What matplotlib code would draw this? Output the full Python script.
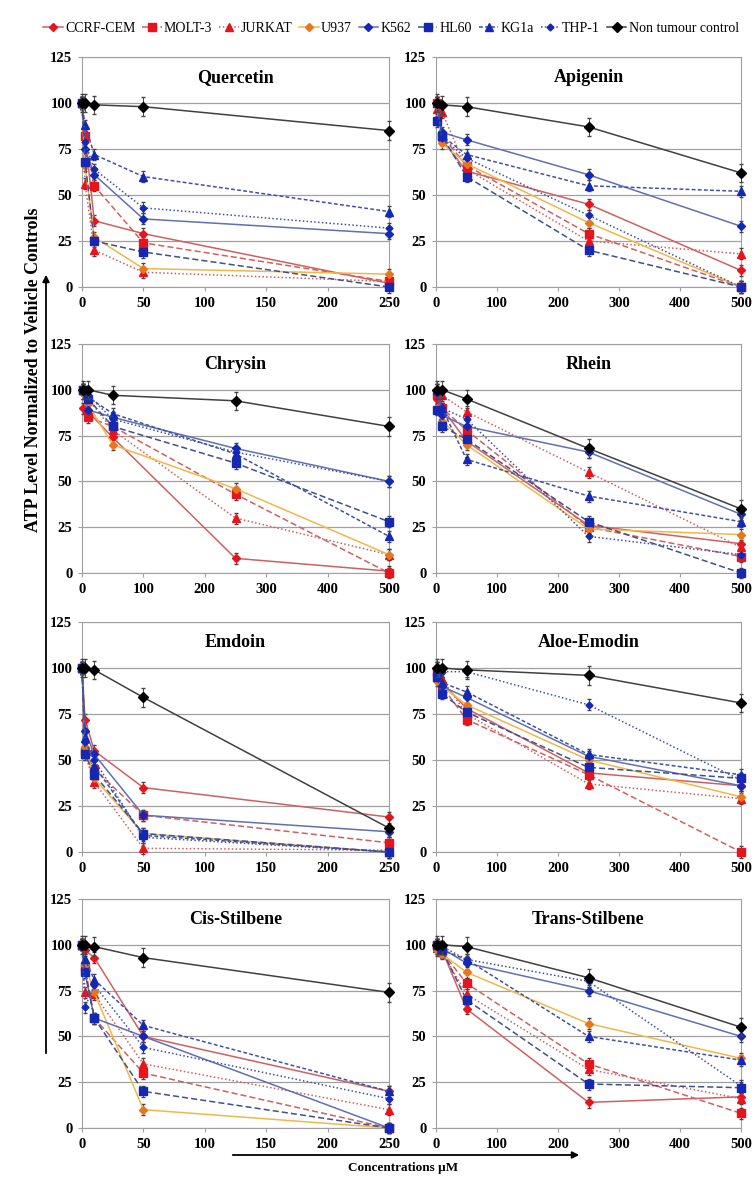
import matplotlib
matplotlib.use('Agg')
import matplotlib.pyplot as plt
from matplotlib.lines import Line2D

plt.rcParams['font.family'] = ['Liberation Serif', 'DejaVu Serif']
plt.rcParams['font.weight'] = 'bold'

# Data (ATP %, rows follow CELL_LINES order)
CELL_LINES = ['CCRF-CEM', 'MOLT-3', 'JURKAT', 'U937', 'K562', 'HL60',
              'KG1a', 'THP-1', 'Non tumour control']

CONC_250 = [0, 2.5, 10, 50, 250]
CONC_500 = [1, 10, 50, 250, 500]

QUERCETIN = [
    [100, 82, 36, 29, 2],
    [100, 82, 55, 24, 3],
    [100, 56, 20, 8, 3],
    [100, 66, 27, 10, 7],
    [100, 75, 61, 37, 29],
    [100, 68, 25, 19, 0],
    [100, 88, 72, 60, 41],
    [100, 79, 64, 43, 32],
    [100, 100, 99, 98, 85],
]
APIGENIN = [
    [100, 80, 63, 45, 9],
    [100, 82, 66, 29, 0],
    [97, 95, 64, 25, 18],
    [100, 78, 67, 35, 0],
    [100, 84, 80, 61, 33],
    [90, 82, 60, 20, 0],
    [100, 82, 72, 55, 52],
    [100, 81, 70, 39, 0],
    [100, 99, 98, 87, 62],
]
CHRYSIN = [
    [90, 88, 74, 8, 1],
    [100, 85, 80, 43, 0],
    [100, 95, 78, 30, 10],
    [98, 92, 70, 46, 10],
    [100, 89, 85, 68, 50],
    [100, 95, 80, 60, 28],
    [100, 96, 87, 65, 20],
    [100, 97, 84, 66, 50],
    [100, 100, 97, 94, 80],
]
RHEIN = [
    [95, 90, 72, 26, 16],
    [97, 90, 78, 25, 9],
    [100, 97, 88, 55, 14],
    [90, 83, 70, 24, 21],
    [100, 86, 80, 66, 32],
    [89, 80, 73, 28, 0],
    [100, 90, 62, 42, 28],
    [98, 90, 84, 20, 10],
    [100, 100, 95, 68, 35],
]
EMDOIN = [
    [100, 72, 55, 35, 19],
    [100, 55, 45, 20, 5],
    [100, 53, 38, 2, 1],
    [100, 57, 40, 10, 0],
    [100, 66, 53, 20, 11],
    [100, 53, 42, 10, 0],
    [100, 62, 47, 9, 0],
    [100, 60, 50, 8, 0],
    [100, 100, 99, 84, 13],
]
ALOE_EMODIN = [
    [96, 92, 78, 43, 36],
    [98, 90, 72, 42, 0],
    [98, 94, 75, 37, 29],
    [93, 90, 80, 50, 30],
    [100, 90, 84, 52, 36],
    [95, 86, 76, 46, 40],
    [100, 92, 87, 53, 42],
    [100, 98, 98, 80, 39],
    [100, 100, 99, 96, 81],
]
CIS_STILBENE = [
    [100, 97, 93, 50, 20],
    [100, 88, 60, 30, 0],
    [100, 74, 73, 35, 10],
    [100, 89, 74, 10, 0],
    [100, 85, 60, 50, 0],
    [100, 85, 60, 20, 0],
    [100, 92, 81, 56, 20],
    [100, 66, 78, 44, 16],
    [100, 100, 99, 93, 74],
]
TRANS_STILBENE = [
    [100, 97, 65, 14, 17],
    [100, 96, 79, 35, 8],
    [98, 96, 73, 32, 16],
    [97, 95, 85, 57, 38],
    [100, 98, 90, 75, 50],
    [100, 97, 70, 24, 22],
    [100, 97, 92, 50, 37],
    [100, 99, 92, 80, 23],
    [100, 100, 99, 82, 55],
]

ERR_CELL = 3
ERR_CONTROL = 5

PANELS = [
    ('Quercetin', CONC_250, QUERCETIN),
    ('Apigenin', CONC_500, APIGENIN),
    ('Chrysin', CONC_500, CHRYSIN),
    ('Rhein', CONC_500, RHEIN),
    ('Emdoin', CONC_250, EMDOIN),
    ('Aloe-Emodin', CONC_500, ALOE_EMODIN),
    ('Cis-Stilbene', CONC_250, CIS_STILBENE),
    ('Trans-Stilbene', CONC_500, TRANS_STILBENE),
]

# marker, marker colour, line colour, linestyle, marker size
STYLES = [
    ('D', '#e8141c', '#d06060', '-', 4.5),
    ('s', '#e8141c', '#d06060', (0, (4, 2)), 5.5),
    ('^', '#e8141c', '#d06060', (0, (1, 1.5)), 5.5),
    ('D', '#e8761e', '#f0b848', '-', 4.5),
    ('D', '#1428b4', '#6070b0', '-', 4.5),
    ('s', '#1428b4', '#40508c', (0, (4, 2)), 5.5),
    ('^', '#1428b4', '#4050a8', (0, (2.5, 1.5)), 5.5),
    ('D', '#1428b4', '#4050a8', (0, (1, 1.5)), 3.5),
    ('D', '#000000', '#404040', '-', 5),
]

W, H = 755, 1189
fig = plt.figure(figsize=(W / 100, H / 100), dpi=100)

col_x = [(82, 389), (436, 741)]
row_y = [(57, 287), (344, 573), (622, 852), (899, 1128)]

for k, (title, conc, values) in enumerate(PANELS):
    r, c = divmod(k, 2)
    x0, x1 = col_x[c]
    y0, y1 = row_y[r]
    ax = fig.add_axes([x0 / W, 1 - y1 / H, (x1 - x0) / W, (y1 - y0) / H])

    for i, row in enumerate(values):
        mk, mc, lc, ls, ms = STYLES[i]
        err = ERR_CONTROL if i == len(values) - 1 else ERR_CELL
        ax.errorbar(conc, row, yerr=err, color=lc, ls=ls, lw=1.1,
                    marker=mk, ms=ms, mfc=mc, mec=mc,
                    ecolor='#444444', elinewidth=0.7, capsize=1.5,
                    clip_on=False, zorder=3 + (2 if i == len(values) - 1 else 0))

    xmax = conc[-1]
    ax.set_xlim(0, xmax)
    ax.set_ylim(0, 125)
    ax.set_yticks(range(0, 126, 25))
    ax.set_xticks(range(0, xmax + 1, 50 if xmax == 250 else 100))
    ax.grid(axis='y', color='#a0a0a0', lw=0.9)
    ax.set_axisbelow(True)
    for sp in ax.spines.values():
        sp.set_color('#a0a0a0')
    ax.tick_params(labelsize=10.5, length=3, color='#a0a0a0', pad=4)
    ax.text(0.5, 0.91, title, transform=ax.transAxes, ha='center',
            va='center', fontsize=13, fontweight='bold')

# Legend across the top
handles = []
for mk, mc, lc, ls, ms in STYLES:
    handles.append(Line2D([], [], color=lc, ls=ls, lw=1.1, marker=mk,
                          ms=ms, mfc=mc, mec=mc))
fig.legend(handles, CELL_LINES, loc='center', bbox_to_anchor=(0.518, 1 - 28 / H),
           ncol=9, frameon=False, handlelength=1.4,
           handletextpad=0.15, columnspacing=0.5,
           prop={'family': 'Liberation Serif', 'weight': 'normal', 'size': 10})

# Overlay for the axis arrows and shared labels
ov = fig.add_axes([0, 0, 1, 1], zorder=-1)
ov.set_xlim(0, W)
ov.set_ylim(H, 0)
ov.axis('off')
ov.annotate('', xy=(46, 272), xytext=(46, 1056),
            arrowprops=dict(arrowstyle='-|>', color='black', lw=1.3,
                            mutation_scale=10))
ov.text(34, 370, 'ATP Level Normalized to Vehicle Controls', rotation=90,
        ha='center', va='center', fontsize=13, fontweight='bold')
ov.annotate('', xy=(582, 1155), xytext=(230, 1155),
            arrowprops=dict(arrowstyle='-|>', color='black', lw=1.3,
                            mutation_scale=10))
ov.text(403, 1168, 'Concentrations \u03bcM', ha='center', va='center',
        fontsize=9.5, fontweight='bold')

fig.savefig('out.png', dpi=100)
